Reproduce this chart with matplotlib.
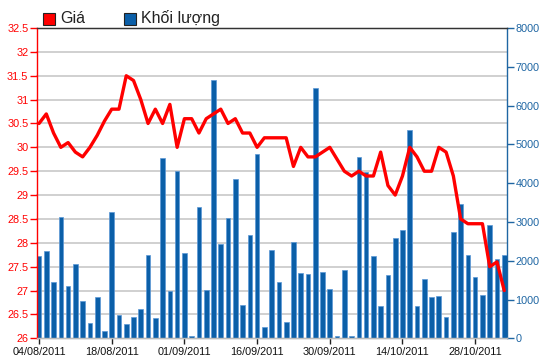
import matplotlib
matplotlib.use("Agg")
import matplotlib.pyplot as plt
from matplotlib.patches import Rectangle
from matplotlib.transforms import blended_transform_factory
import numpy as np

# ---- data ----
tick_labels = ["04/08/2011", "18/08/2011", "01/09/2011", "16/09/2011",
               "30/09/2011", "14/10/2011", "28/10/2011"]
tick_index = [0, 10, 20, 30, 40, 50, 60]

price = [30.5, 30.7, 30.3, 30.0, 30.1, 29.9, 29.8, 30.0, 30.25, 30.55,
         30.8, 30.8, 31.5, 31.4, 31.0, 30.5, 30.8, 30.5, 30.9, 30.0,
         30.6, 30.6, 30.3, 30.6, 30.7, 30.8, 30.5, 30.6, 30.3, 30.3,
         30.0, 30.2, 30.2, 30.2, 30.2, 29.6, 30.0, 29.8, 29.8, 29.9,
         30.0, 29.75, 29.5, 29.4, 29.5, 29.4, 29.4, 29.9, 29.2, 29.0,
         29.4, 30.0, 29.8, 29.5, 29.5, 30.0, 29.9, 29.4, 28.5, 28.4,
         28.4, 28.4, 27.5, 27.6, 27.0]

volume = [2110, 2240, 1440, 3130, 1340, 1920, 960, 390, 1060, 200,
          3260, 600, 380, 540, 760, 2150, 520, 4640, 1210, 4320,
          2210, 70, 3390, 1250, 6660, 2440, 3110, 4100, 860, 2660,
          4740, 280, 2270, 1450, 410, 2490, 1680, 1660, 6460, 1710,
          1260, 70, 1750, 70, 4670, 4300, 2110, 820, 1630, 2590,
          2780, 5380, 820, 1540, 1060, 1080, 540, 2750, 3450, 2150,
          1570, 1120, 2910, 2040, 2150]

price_ticks = [26, 26.5, 27, 27.5, 28, 28.5, 29, 29.5, 30, 30.5, 31, 31.5, 32, 32.5]
volume_ticks = [0, 1000, 2000, 3000, 4000, 5000, 6000, 7000, 8000]

legend_labels = ["Giá", "Khối lượng"]

# ---- style ----
RED = "#ff0000"
BLUE_BAR = "#0b5fa8"
BLUE_AX = "#1f66a3"
GRID = "#c8c8c8"
FONT = ["Liberation Sans", "DejaVu Sans"]
plt.rcParams["font.family"] = FONT

W, H = 550, 364
fig = plt.figure(figsize=(W / 100, H / 100), dpi=100)
left, right, top, bottom = 36.7, 507.3, 28.0, 338.3
ax_vol = fig.add_axes([left / W, 1 - bottom / H, (right - left) / W, (bottom - top) / H])
ax_price = ax_vol.twinx()

x = np.arange(len(volume))

# volume bars (lower layer)
ax_vol.bar(x, volume, width=0.64, color=BLUE_BAR, edgecolor="#5b98d6",
           linewidth=0.5, zorder=3)
ax_vol.set_ylim(0, 8000)
ax_vol.set_xlim(-0.32, len(volume) - 1 + 0.42)
ax_vol.yaxis.tick_right()
ax_vol.yaxis.set_label_position("right")
ax_vol.set_yticks(volume_ticks)
ax_vol.set_yticklabels([str(v) for v in volume_ticks])

# gridlines at price ticks, drawn behind bars
tr = blended_transform_factory(ax_vol.transAxes, ax_price.transData)
for p in price_ticks[1:-1]:
    ax_vol.plot([0, 1], [p, p], transform=tr, color=GRID, lw=1.2, zorder=1,
                clip_on=False)

# price line (upper layer)
ax_price.plot(x, price, color=RED, lw=2.4, solid_joinstyle="round",
              solid_capstyle="round", zorder=5)
ax_price.set_ylim(26, 32.5)
ax_price.yaxis.tick_left()
ax_price.yaxis.set_label_position("left")
ax_price.set_yticks(price_ticks)
ax_price.set_yticklabels([f"{p:g}" for p in price_ticks])

ax_price.set_zorder(ax_vol.get_zorder() + 1)
ax_price.patch.set_visible(False)

# x ticks
ax_vol.set_xticks(tick_index)
ax_vol.set_xticklabels(tick_labels)
ax_vol.tick_params(axis="x", length=4, width=1, color="#222222", pad=2,
                   labelsize=7.8, labelcolor="#111111")
ax_price.tick_params(axis="x", bottom=False, labelbottom=False)

ax_price.tick_params(axis="y", length=5, width=1, color=RED, pad=1,
                     labelsize=7.8, labelcolor=RED)
ax_vol.tick_params(axis="y", length=5, width=1, color=BLUE_AX, pad=1,
                   labelsize=7.8, labelcolor=BLUE_AX)

for a in (ax_vol, ax_price):
    a.spines["top"].set_color("#333333")
    a.spines["top"].set_linewidth(0.9)
    a.spines["bottom"].set_color("#bbbbbb")
    a.spines["bottom"].set_linewidth(1.0)
ax_price.spines["left"].set_color(RED)
ax_price.spines["left"].set_linewidth(1.0)
ax_price.spines["right"].set_visible(False)
ax_vol.spines["left"].set_visible(False)
ax_vol.spines["right"].set_color(BLUE_AX)
ax_vol.spines["right"].set_linewidth(1.0)
ax_vol.set_facecolor("white")

# legend (manual, top-left)
sq = [(43 / W, 1 - 24.5 / H), (124 / W, 1 - 24.5 / H)]
cols = [RED, BLUE_BAR]
txt_x = [60 / W, 141 / W]
for (sx, sy), c, tx, lab in zip(sq, cols, txt_x, legend_labels):
    fig.patches.append(Rectangle((sx, sy), 11.5 / W, 12 / H, transform=fig.transFigure,
                                 facecolor=c, edgecolor="#222222", linewidth=0.8))
    fig.text(tx, 1 - 18.5 / H, lab, fontsize=11.5, color="#222222",
             va="center", ha="left")

fig.savefig("out.png", dpi=100, facecolor="white")
